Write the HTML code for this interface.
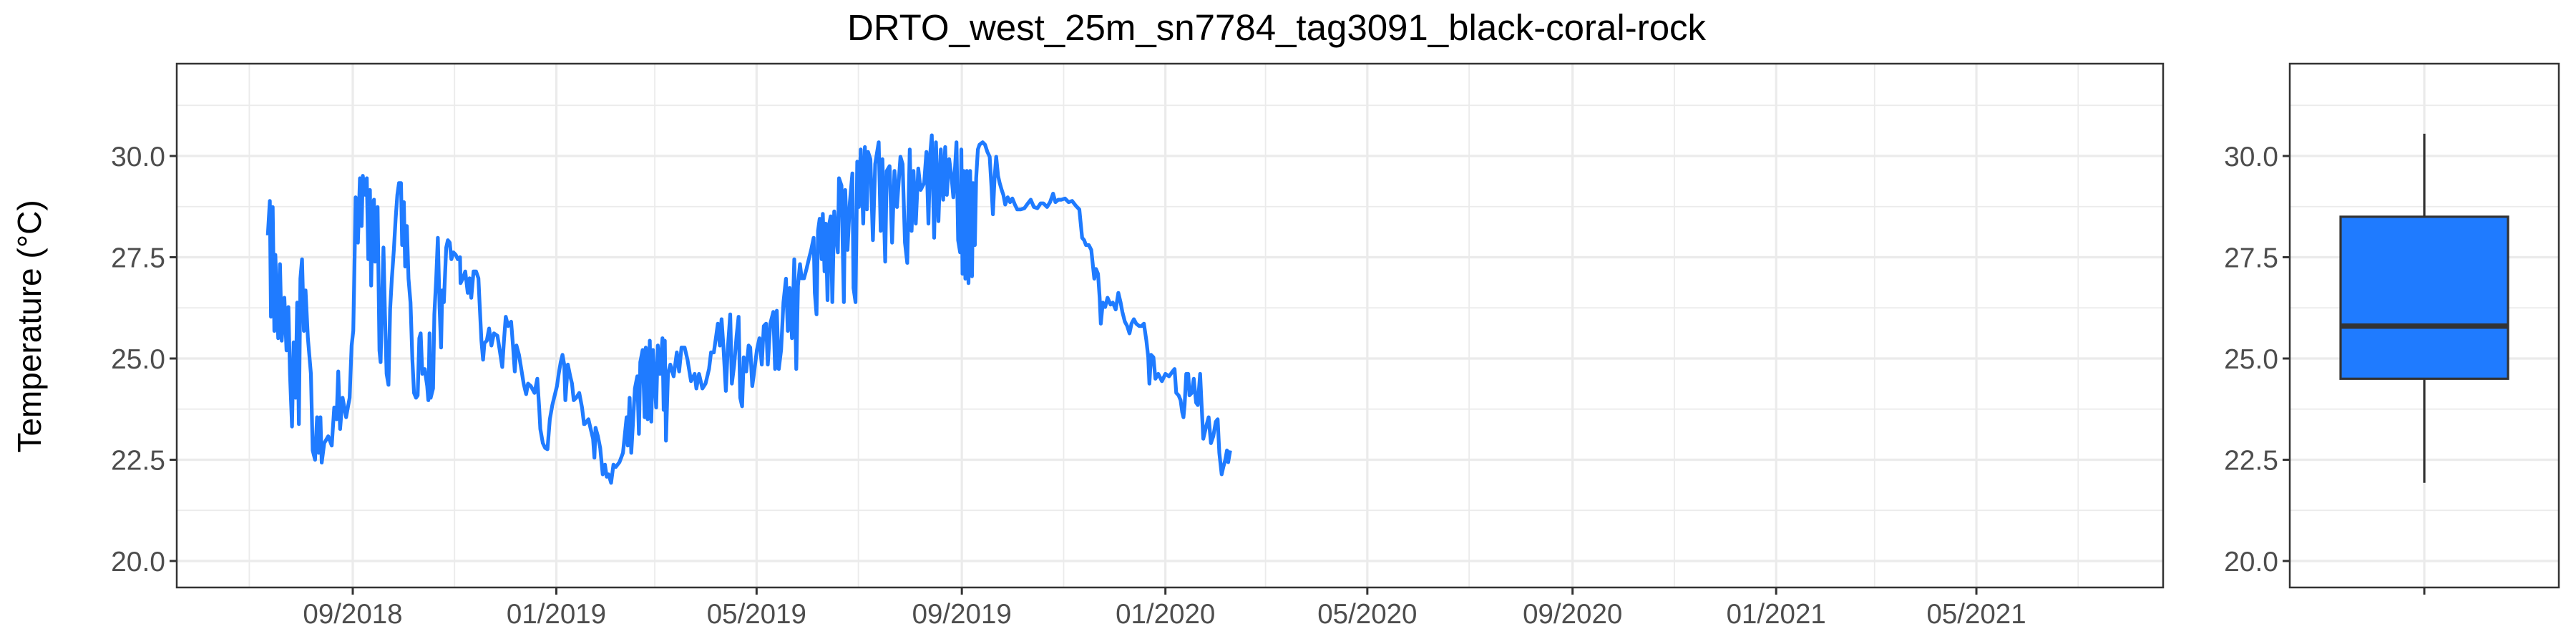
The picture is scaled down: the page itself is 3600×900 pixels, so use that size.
<!DOCTYPE html>
<html><head><meta charset="utf-8"><style>
html,body{margin:0;padding:0;background:#fff;}
svg{display:block;font-family:"Liberation Sans",Arial,sans-serif;}
</style></head><body>
<svg id="chart" width="3600" height="900" viewBox="0 0 3600 900" xmlns="http://www.w3.org/2000/svg">
<text x="1784" y="56" text-anchor="middle" font-size="51" fill="#000">DRTO_west_25m_sn7784_tag3091_black-coral-rock</text>
<text transform="translate(57,456) rotate(-90)" text-anchor="middle" font-size="46" fill="#000">Temperature (°C)</text>
<g id="main"></g>
<g id="box"></g>
</svg>
<script>
// days since 2018-09-01
const days = [-50.9,-49.7,-49,-48,-47,-46.4,-44.7,-43.6,-42.6,-41,-39.7,-38.6,-37.6,-36.4,-35.4,-34.3,-33.3,-32.3,-31.4,-30.4,-29.3,-28.3,-26.9,-25.1,-24,-22.6,-21.4,-20.4,-19.4,-18.6,-17.1,-14.7,-12.6,-11.1,-9.7,-8.7,-7.6,-6.1,-4,-1.9,-0.7,0.3,1,1.7,3.1,4.3,5.3,6,7.4,8.4,9.3,10.3,11,12,12.7,13.4,14.9,16,16.7,17.7,18.4,19.3,20.3,21.4,22.4,23.4,24.6,25.7,26.7,27.7,28.9,29.6,30.6,31.4,32.4,33.4,34.6,35.7,36.7,37.9,38.9,39.9,40.7,41.7,43.1,44.6,45.3,46,46.7,48.1,48.9,50,51,52,52.9,53.6,54.6,56,57,58.1,59.1,60.3,61.7,62.9,64.3,64.6,66,67.4,68.9,70,71,72.4,73.9,75.3,76,77.1,78.1,78.9,80.3,81.7,83.1,84.6,86.7,88.1,89.6,90.6,91.7,93.1,94.9,96,97.1,98.1,99.6,101,102.4,103.9,105,106.7,108.9,110.6,111.7,112.4,113.9,115.3,116.7,118.1,119.6,121,122.4,123.4,124.6,125.7,126.7,127.4,128.9,130.3,131.4,132.4,133.9,135.7,137.4,138.6,
139,141.2,142.6,144,144.8,145.5,146.9,148.3,149.8,151.1,152.2,153.3,154.8,156.2,157.6,159.8,161.9,164.1,164.8,165.9,166.9,167.9,169.1,170.5,171.5,172.3,173.7,174.9,175.6,176.7,178,178.9,179.9,181.8,182.8,184.1,185.6,186.3,187,187.7,188.9,190.3,192.3,194.2,195.6,197,198.9,200.6,202.7,204.9,205.9,207.5,209.5,211.4,213.5,214.7,216.4,217.8,218.8,220,221,222.1,223.6,224.7,226.2,227.2,228.6,230,231.2,232.2,233.3,234.3,235.8,237.2,238.2,239.4,240.8,242.2,243.7,245.1,246.3,247.7,248.7,250.2,252,253.1,254.1,255.3,256.7,258.1,259.6,260.7,261.8,263.2,264.6,265.8,266.8,268,269,270.4,271.9,273.3,274.7,276.2,276.9,277.9,278.8,279.8,281,281.7,282.7,283.4,284.5,285.3,286.4,287.4,288.5,289.7,290.7,291.4,292.9,294.3,295.1,296.5,297.9,299.4,300.1,301.3,302.3,303.3,304.4,305.9,306.9,308.1,308.8,310.2,311.7,313.1,315.2,316.4,317.4,319.1,320,321.7,323.2,324.6,326.1,328.2,
329.5,330.9,332.3,333.8,334.9,336,337.4,338.9,340.3,342.4,343.8,345,346,347,348.4,349.5,351,352.4,353.8,355,356,357.4,358.9,359.9,361.8,362.8,364,364.7,365.4,366.1,367.1,368,369,370,371.1,371.8,372.8,373.6,374.6,375.6,377.5,378.9,380.3,381.7,382.7,383.6,384.6,385.6,386.7,387.7,388.9,389.9,391,392.5,393.9,395.3,396.8,398.2,400.3,402.5,404.6,406.3,408.2,410.3,412.2,413.9,416.1,417.9,419.7,421.1,422.8,424.7,426.8,429,431.1,433.3,435.4,436.1,437.1,438.3,439.4,441.1,442.6,443.6,444.4,445.4,446.6,447.6,448.3,449.5,450.9,452.3,454.1,455.5,457.2,458.8,460.1,461.2,462.7,464.1,465.5,466.7,468.1,469.5,471.3,472.7,474.1,475.6,476.7,477.4,478.4,479.8,481,482.7,484.9,487,489.2,491.3,492.5,493.5,494.9,496.1,497.1,497.8,498.5,499.5,500.7,501.4,502.8,504,505.4,506.4,507.8,508.6,509.7,511.4,512.9,514.3,515.7,517.2,518.3,519.3,520.7,521.7,522.9,523.9,524.6,525.8];
const temps = [28.04,28.89,26.03,28.74,25.68,27.56,25.5,27.33,25.44,26.5,25.2,26.27,24.6,23.32,25.4,24.03,26.38,23.38,26.97,27.45,25.68,26.68,25.5,24.62,22.73,22.5,23.55,22.67,23.55,22.43,22.91,23.08,22.85,23.79,23.5,24.68,23.26,24.03,23.55,24.03,25.32,25.68,27.21,28.98,27.86,29.45,28.27,29.51,29.04,29.45,27.45,29.16,26.8,28.74,28.92,27.39,28.74,25.2,24.91,26.68,27.74,26.09,24.62,24.35,26.21,26.97,27.68,28.45,29.04,29.33,29.33,27.8,28.86,27.27,28.27,26.97,26.38,24.97,24.15,24.03,24.09,25.5,25.62,24.62,24.74,24.32,23.97,25.62,24.03,24.26,26.09,26.97,27.98,26.27,25.27,26.68,26.39,27.74,27.92,27.86,27.45,27.62,27.56,27.45,27.5,26.86,26.98,27.15,26.62,26.98,26.5,27.15,27.15,26.98,26.38,25.44,24.97,25.38,25.44,25.74,25.32,25.62,25.56,25.2,24.79,25.44,26.03,25.8,25.91,25.32,24.68,25.32,25.09,24.74,24.38,24.12,24.38,24.32,24.15,24.5,23.79,23.26,22.91,22.79,22.76,23.5,23.85,24.09,24.32,24.62,24.91,25.09,24.85,23.97,24.85,24.56,24.38,23.97,24.03,24.15,23.79,23.38,
23.38,23.5,23.26,23.02,22.55,23.29,23.08,22.79,22.14,22.38,22.08,22.14,21.93,22.38,22.32,22.44,22.67,23.55,22.85,24.03,22.67,23.38,24.26,24.56,23.14,24.91,25.21,23.55,25.27,23.5,25.44,23.44,25.21,23.79,25.32,24.62,25.5,23.73,25.44,22.97,24.62,24.85,24.56,25.15,24.68,25.27,25.27,24.97,24.44,24.62,24.26,24.62,24.26,24.38,24.74,25.15,25.15,25.56,25.86,25.32,25.97,25.32,24.2,25.21,26.09,24.38,24.85,25.56,26.03,24.03,23.82,25.03,24.68,25.32,25.27,24.32,24.74,25.21,25.5,24.85,25.8,25.86,24.85,25.86,26.15,24.74,26.18,24.74,25.21,26.39,26.97,25.68,26.74,25.5,27.45,24.74,26.8,27.33,26.98,26.98,27.21,27.45,27.68,27.98,26.62,26.09,28.15,28.45,27.45,28.57,27.15,28.33,26.44,28.27,28.51,26.39,28.63,28.04,27.62,29.45,29.27,26.39,29.16,27.68,28.86,29.57,26.74,26.39,29.86,28.74,30.16,28.33,30.22,28.68,30.1,29.92,27.92,29.8,30.34,28.15,29.92,27.39,29.63,29.75,27.86,29.63,28.74,29.98,
29.8,27.86,27.36,30.16,28.15,29.63,28.33,29.69,29.16,29.33,30.1,28.33,30.04,30.51,27.98,30.34,28.39,30.16,28.92,30.22,29.04,29.92,29.45,28.98,30.34,27.92,27.62,30.16,27.09,29.63,26.97,29.63,26.86,29.63,27.03,29.33,27.8,29.45,30.16,30.28,30.34,30.28,30.1,29.98,29.27,28.56,29.45,29.98,29.51,29.33,29.16,29.04,28.8,28.98,28.86,28.95,28.8,28.68,28.68,28.71,28.83,28.92,28.74,28.71,28.83,28.83,28.74,28.86,29.07,28.86,28.92,28.92,28.95,28.86,28.89,28.77,28.68,28.39,27.98,27.92,27.8,27.8,27.68,27.27,26.97,27.21,27.09,26.5,25.86,26.38,26.27,26.5,26.33,26.38,26.21,26.62,26.39,26.15,25.91,25.8,25.62,25.86,25.97,25.86,25.8,25.8,25.86,25.44,25.03,24.38,25.09,25.03,24.5,24.62,24.44,24.62,24.56,24.68,24.74,24.15,24.09,23.97,23.67,23.55,23.85,24.62,24.62,24.09,24.15,24.5,23.91,23.85,24.62,23.91,23.02,23.32,23.55,22.91,23.08,23.44,23.5,22.67,22.14,22.32,22.5,22.73,22.44,22.73];
const yTicks = [20, 22.5, 25, 27.5, 30];
const yTickLabels = ["20.0", "22.5", "25.0", "27.5", "30.0"];
const yMinor = [21.25, 23.75, 26.25, 28.75, 31.25];
const xTickDates = ["2018-09-01","2019-01-01","2019-05-01","2019-09-01","2020-01-01","2020-05-01","2020-09-01","2021-01-01","2021-05-01"];
const xTickLabels = ["09/2018","01/2019","05/2019","09/2019","01/2020","05/2020","09/2020","01/2021","05/2021"];
const xMinorDates = ["2018-07-01","2018-11-01","2019-03-01","2019-07-01","2019-11-01","2020-03-01","2020-07-01","2020-11-01","2021-03-01","2021-07-01"];
// boxplot stats: lower whisker, q1, median, q3, upper whisker
const boxStats = [21.93, 24.5, 25.8, 28.5, 30.55];

const NS = "http://www.w3.org/2000/svg";
const P = {l:247, r:3023, t:89, b:821};
const B = {l:3200, r:3576, cx:3388, half:117};
const origin = Date.UTC(2018,8,1);
function dayOf(s){const p=s.split('-');return (Date.UTC(+p[0],+p[1]-1,+p[2])-origin)/86400000;}
function X(d){return 493 + d*2.332;}
function Y(v){return 218 + (30 - v)*56.6;}
function mk(parent, tag, attrs){const e=document.createElementNS(NS,tag);for(const k in attrs)e.setAttribute(k,attrs[k]);parent.appendChild(e);return e;}
const main=document.getElementById('main'), box=document.getElementById('box');

[[main,P.l,P.r],[box,B.l,B.r]].forEach(([g,l,r])=>{
  yMinor.forEach(v=>{const e=mk(g,'line',{x1:l,x2:r,y1:Y(v),y2:Y(v),stroke:'#ebebeb','stroke-width':1.8});
    
    });
  yTicks.forEach((v,i)=>{const e=mk(g,'line',{x1:l,x2:r,y1:Y(v),y2:Y(v),stroke:'#ebebeb','stroke-width':3.2});
    
    
    const t=mk(g,'line',{x1:l-10,x2:l,y1:Y(v),y2:Y(v),stroke:'#333','stroke-width':3});
    
    
    const lb=mk(g,'text',{x:l-16,y:Y(v)+14,'text-anchor':'end','font-size':39,fill:'#4d4d4d'});
    lb.textContent=yTickLabels[i];
    
    });
});
xMinorDates.forEach(s=>{const x=X(dayOf(s));const e=mk(main,'line',{x1:x,x2:x,y1:P.t,y2:P.b,stroke:'#ebebeb','stroke-width':1.8});
  
  });
xTickDates.forEach((s,i)=>{const x=X(dayOf(s));
  const e=mk(main,'line',{x1:x,x2:x,y1:P.t,y2:P.b,stroke:'#ebebeb','stroke-width':3.2});
  
  
  const t=mk(main,'line',{x1:x,x2:x,y1:P.b,y2:P.b+10,stroke:'#333','stroke-width':3});
  
  
  const lb=mk(main,'text',{x:x,y:871,'text-anchor':'middle','font-size':38.5,fill:'#4d4d4d'});
  lb.textContent=xTickLabels[i];
  
  });

let d='';
for(let i=0;i<days.length;i++){d+=(i?'L':'M')+X(days[i]).toFixed(1)+' '+Y(temps[i]).toFixed(1);}
const line=mk(main,'path',{d:d,fill:'none',stroke:'#1f7bff','stroke-width':5.2,'stroke-linejoin':'round'});


const f1=mk(main,'rect',{x:P.l,y:P.t,width:P.r-P.l,height:P.b-P.t,fill:'none',stroke:'#333','stroke-width':2.5});



const vg=mk(box,'line',{x1:B.cx,x2:B.cx,y1:P.t,y2:P.b,stroke:'#ebebeb','stroke-width':3.2});


const wk=mk(box,'line',{x1:B.cx,x2:B.cx,y1:Y(boxStats[4]),y2:Y(boxStats[0]),stroke:'#333','stroke-width':3.2});


const rc=mk(box,'rect',{x:B.cx-B.half,y:Y(boxStats[3]),width:2*B.half,height:Y(boxStats[1])-Y(boxStats[3]),fill:'#1f7bff',stroke:'#333','stroke-width':3.2});


const md=mk(box,'line',{x1:B.cx-B.half,x2:B.cx+B.half,y1:Y(boxStats[2]),y2:Y(boxStats[2]),stroke:'#333','stroke-width':7.5});


const bt=mk(box,'line',{x1:B.cx,x2:B.cx,y1:P.b,y2:P.b+10,stroke:'#333','stroke-width':3});


const f2=mk(box,'rect',{x:B.l,y:P.t,width:B.r-B.l,height:P.b-P.t,fill:'none',stroke:'#333','stroke-width':2.5});


</script>
</body></html>
